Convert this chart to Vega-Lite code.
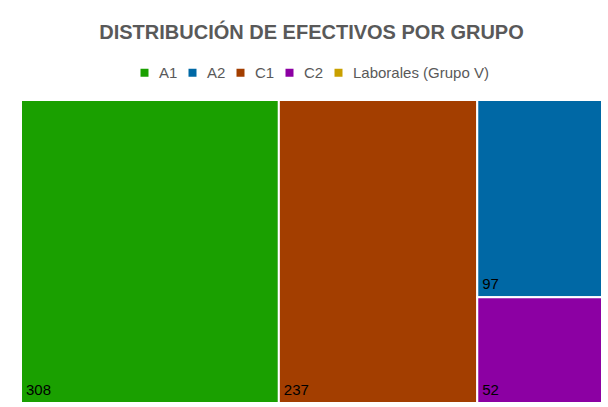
{
  "$schema": "https://vega.github.io/schema/vega-lite/v6.json",
  "autosize": {"type": "none"},
  "width": 581,
  "height": 303,
  "padding": {"left": 21, "top": 100, "right": 6, "bottom": 4},
  "background": "white",
  "title": {
    "text": "DISTRIBUCIÓN DE EFECTIVOS POR GRUPO",
    "font": "Liberation Sans",
    "fontSize": 20,
    "fontWeight": "bold",
    "color": "#595959",
    "anchor": "middle",
    "baseline": "bottom",
    "offset": 2
  },
  "data": {
    "values": [
      {"grupo": "A1", "efectivos": 308, "col": 1},
      {"grupo": "C1", "efectivos": 237, "col": 2},
      {"grupo": "A2", "efectivos": 97, "col": 3},
      {"grupo": "C2", "efectivos": 52, "col": 3},
      {"grupo": "Laborales (Grupo V)", "efectivos": 0, "col": 4}
    ]
  },
  "transform": [
    {"filter": "datum.efectivos > 0"},
    {"stack": "efectivos", "groupby": [], "sort": [{"field": "col", "order": "ascending"}, {"field": "efectivos", "order": "descending"}], "as": ["sx0", "sx1"]},
    {"joinaggregate": [{"op": "min", "field": "sx0", "as": "cx0"}, {"op": "max", "field": "sx1", "as": "cx1"}], "groupby": ["col"]},
    {"stack": "efectivos", "groupby": ["col"], "offset": "normalize", "sort": [{"field": "efectivos", "order": "ascending"}], "as": ["sy0", "sy1"]}
  ],
  "layer": [
    {
      "mark": {"type": "rect", "stroke": "white", "strokeWidth": 2},
      "encoding": {
        "x": {"field": "cx0", "type": "quantitative", "scale": {"nice": false, "zero": true}, "axis": null},
        "x2": {"field": "cx1"},
        "y": {"field": "sy0", "type": "quantitative", "scale": {"domain": [0, 1], "nice": false}, "axis": null},
        "y2": {"field": "sy1"},
        "color": {
          "field": "grupo",
          "type": "nominal",
          "scale": {
            "domain": ["A1", "A2", "C1", "C2", "Laborales (Grupo V)"],
            "range": ["#1aa000", "#0068a5", "#a33e00", "#8c00a3", "#c9a000"]
          },
          "legend": {
            "title": null,
            "orient": "none",
            "direction": "horizontal",
            "legendX": 116,
            "legendY": -35,
            "symbolType": "square",
            "symbolSize": 64,
            "symbolStrokeWidth": 0,
            "symbolOpacity": 1,
            "labelFont": "Liberation Sans",
            "labelFontSize": 15,
            "labelColor": "#595959",
            "labelOffset": 7,
            "columnPadding": 7
          }
        }
      }
    },
    {
      "mark": {"type": "text", "align": "left", "baseline": "alphabetic", "dx": 5, "dy": -8, "font": "Liberation Sans", "fontSize": 15, "color": "#000000"},
      "encoding": {
        "x": {"field": "cx0", "type": "quantitative"},
        "y": {"field": "sy0", "type": "quantitative"},
        "text": {"field": "efectivos", "type": "quantitative"}
      }
    }
  ],
  "config": {"view": {"stroke": null}}
}
